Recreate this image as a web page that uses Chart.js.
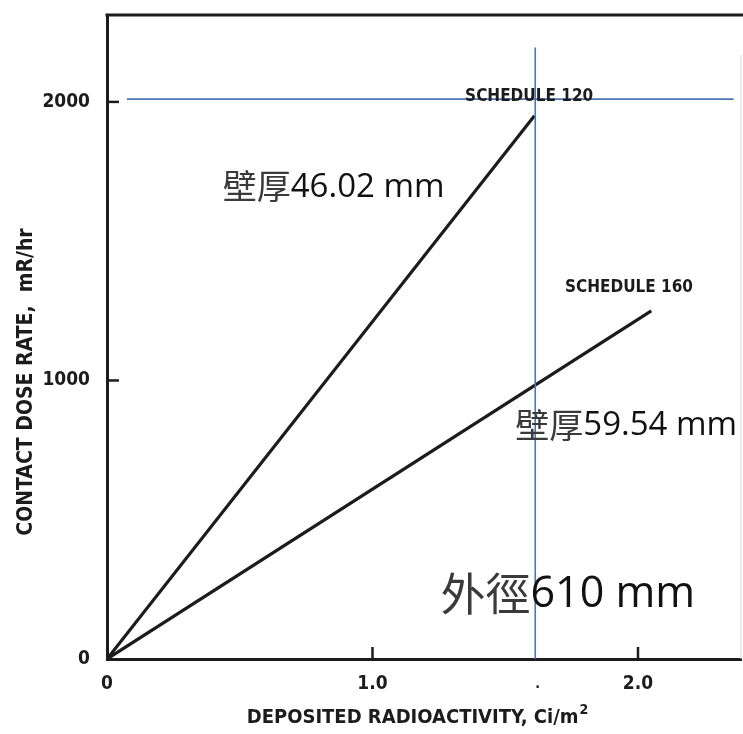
<!DOCTYPE html>
<html>
<head>
<meta charset="utf-8">
<script src="https://cdn.jsdelivr.net/npm/chart.js@4/dist/chart.umd.min.js"></script>
<style>
  html, body { margin: 0; padding: 0; background: #fff; }
  #wrap { width: 743px; height: 734px; }
</style>
</head>
<body>
<div id="wrap"><canvas id="myChart" width="743" height="734"></canvas></div>
<script>
// values
const sched120X = [0, 1.61];
const sched120Y = [0, 1950];
const sched160X = [0, 2.05];
const sched160Y = [0, 1250];

// blue guide lines added on top of the scan
const guideVX = [1.613, 1.613];
const guideVY = [0, 2195];
const guideHX = [0.075, 2.36];
const guideHY = [2010, 2010];

const xTicks = [0, 1, 2];
const xTickLabels = ['0', '1.0', '2.0'];
const yTicks = [0, 1000, 2000];
const yTickLabels = ['0', '1000', '2000'];

const xMax = 2.388;
const yMax = 2312;

const scanFont = '"DejaVu Sans Condensed", "Liberation Sans Narrow", "DejaVu Sans", sans-serif';
const ink = '#1c1c1c';
const blue = '#4a76b6';

// text notes, anchored in data units
const notes = [
  {cjk: '壁厚', latin: '46.02 mm', x: 0.436, y: 1660, cjkSize: 34, latinSize: 33},
  {cjk: '壁厚', latin: '59.54 mm', x: 1.538, y: 803, cjkSize: 34, latinSize: 33},
  {cjk: '外徑', latin: '610 mm', x: 1.256, y: 186, cjkSize: 45, latinSize: 43}
];
const seriesLabels = [
  {text: 'SCHEDULE 120', x: 1.59, y: 2018},
  {text: 'SCHEDULE 160', x: 1.966, y: 1333}
];

function pts(xs, ys) {
  return xs.map((x, i) => ({x: x, y: ys[i]}));
}

const decor = {
  id: 'decor',
  beforeDatasetsDraw(chart) {
    const ctx = chart.ctx;
    const a = chart.chartArea;
    const xs = chart.scales.x, ys = chart.scales.y;
    ctx.save();
    // top frame edge
    ctx.strokeStyle = ink;
    ctx.lineWidth = 3;
    ctx.beginPath();
    ctx.moveTo(a.left - 1.5, a.top);
    ctx.lineTo(743, a.top);
    ctx.stroke();
    // faint right edge of the scan
    ctx.strokeStyle = '#d6d6d6';
    ctx.lineWidth = 1;
    ctx.beginPath();
    ctx.moveTo(a.right, a.top + 40);
    ctx.lineTo(a.right, a.bottom);
    ctx.stroke();
    // inward tick marks
    ctx.strokeStyle = ink;
    ctx.lineWidth = 2.5;
    yTicks.slice(1).forEach(v => {
      const py = ys.getPixelForValue(v);
      ctx.beginPath();
      ctx.moveTo(a.left, py);
      ctx.lineTo(a.left + 12, py);
      ctx.stroke();
    });
    xTicks.slice(1).forEach(v => {
      const px = xs.getPixelForValue(v);
      ctx.beginPath();
      ctx.moveTo(px, a.bottom);
      ctx.lineTo(px, a.bottom - 12);
      ctx.stroke();
    });
    ctx.restore();
  },
  afterDraw(chart) {
    const ctx = chart.ctx;
    const xs = chart.scales.x, ys = chart.scales.y;
    ctx.save();
    ctx.fillStyle = ink;
    ctx.textBaseline = 'middle';
    ctx.textAlign = 'center';
    // series labels
    ctx.font = 'bold 17px ' + scanFont;
    seriesLabels.forEach(l => {
      ctx.fillText(l.text, xs.getPixelForValue(l.x), ys.getPixelForValue(l.y));
    });
    // x axis title with superscript
    const xt = 'DEPOSITED RADIOACTIVITY, Ci/m';
    ctx.font = 'bold 20px ' + scanFont;
    const w1 = ctx.measureText(xt).width;
    ctx.font = 'bold 14px ' + scanFont;
    const w2 = ctx.measureText('2').width;
    const cx = 417, cy = 718;
    const x0 = cx - (w1 + w2) / 2;
    ctx.textAlign = 'left';
    ctx.font = 'bold 20px ' + scanFont;
    ctx.fillText(xt, x0, cy);
    ctx.font = 'bold 14px ' + scanFont;
    ctx.fillText('2', x0 + w1 + 1, cy - 8);
    // stray dot under the axis from the scan
    ctx.font = 'bold 14px ' + scanFont;
    ctx.fillText('.', xs.getPixelForValue(1.613), 684);
    // y axis title
    ctx.translate(27, 382);
    ctx.rotate(-Math.PI / 2);
    ctx.textAlign = 'center';
    ctx.font = 'bold 21px ' + scanFont;
    ctx.fillText('CONTACT DOSE RATE,  mR/hr', 0, 0);
    ctx.restore();

    // notes in CJK + latin
    ctx.save();
    ctx.textBaseline = 'alphabetic';
    ctx.textAlign = 'left';
    notes.forEach(n => {
      let px = xs.getPixelForValue(n.x);
      const py = ys.getPixelForValue(n.y);
      ctx.font = n.cjkSize + 'px "Noto Sans CJK TC", "Noto Sans CJK SC", sans-serif';
      ctx.fillStyle = '#3a3a3a';
      ctx.fillText(n.cjk, px, py + n.cjkSize * 0.08);
      px += ctx.measureText(n.cjk).width;
      ctx.font = n.latinSize + 'px "Open Sans", "Noto Sans", sans-serif';
      ctx.fillStyle = '#111';
      ctx.fillText(n.latin, px, py);
    });
    ctx.restore();
  }
};

const ctx = document.getElementById('myChart');

new Chart(ctx, {
  type: 'scatter',
  data: {
    datasets: [
      {label: 'Schedule 120', data: pts(sched120X, sched120Y), showLine: true,
       borderColor: ink, borderWidth: 3.2, pointRadius: 0, order: 2},
      {label: 'Schedule 160', data: pts(sched160X, sched160Y), showLine: true,
       borderColor: ink, borderWidth: 3.2, pointRadius: 0, order: 2},
      {label: 'guide v', data: pts(guideVX, guideVY), showLine: true,
       borderColor: blue, borderWidth: 1.6, pointRadius: 0, order: 1},
      {label: 'guide h', data: pts(guideHX, guideHY), showLine: true,
       borderColor: blue, borderWidth: 1.6, pointRadius: 0, order: 1}
    ]
  },
  options: {
    responsive: false,
    animation: false,
    layout: {padding: {top: 15, right: 2, left: 0, bottom: 0}},
    plugins: {
      legend: {display: false},
      tooltip: {enabled: false}
    },
    scales: {
      x: {
        type: 'linear',
        min: 0,
        max: xMax,
        afterBuildTicks: s => { s.ticks = xTicks.map(v => ({value: v})); },
        afterFit: s => { s.height = 75; s.paddingLeft = 0; s.paddingRight = 0; },
        grid: {display: false},
        border: {display: true, color: ink, width: 3},
        ticks: {
          padding: 6,
          color: ink,
          font: {family: scanFont, size: 19, weight: 'bold'},
          callback: (v, i) => xTickLabels[i]
        }
      },
      y: {
        type: 'linear',
        min: 0,
        max: yMax,
        afterBuildTicks: s => { s.ticks = yTicks.map(v => ({value: v})); },
        afterFit: s => { s.width = 107; s.paddingTop = 0; s.paddingBottom = 0; },
        grid: {display: false},
        border: {display: true, color: ink, width: 3},
        ticks: {
          padding: 9,
          color: ink,
          font: {family: scanFont, size: 19, weight: 'bold'},
          callback: (v, i) => yTickLabels[i]
        }
      }
    }
  },
  plugins: [decor]
});
</script>
</body>
</html>
